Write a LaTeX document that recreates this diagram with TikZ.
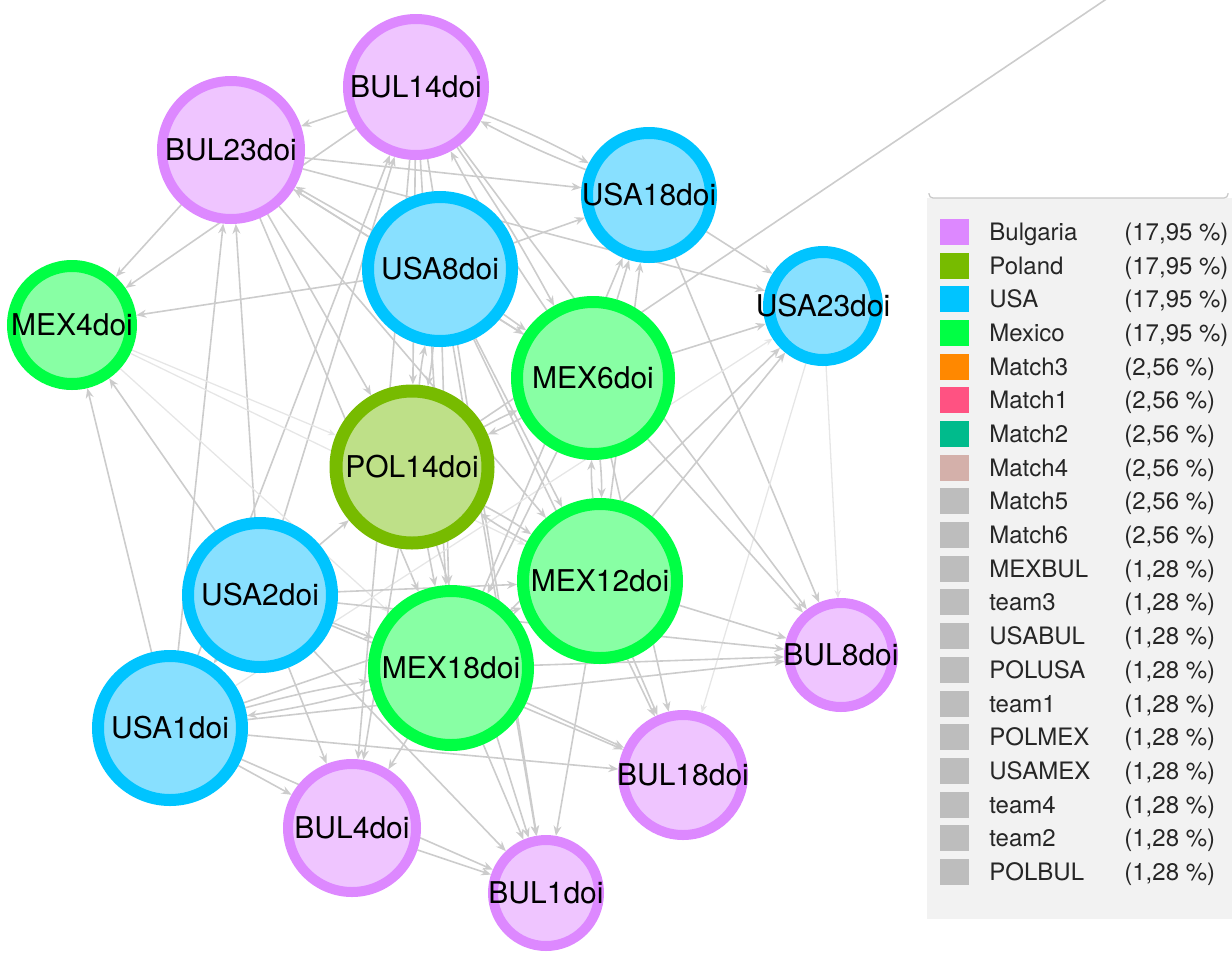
\documentclass[tikz,border=0pt]{standalone}
\usepackage{fontspec}
\setmainfont{TeX Gyre Heros}
\usetikzlibrary{arrows.meta,backgrounds}
\definecolor{bulF}{HTML}{EFC5FF}
\definecolor{bulD}{HTML}{DD88FF}
\definecolor{usaF}{HTML}{88E0FF}
\definecolor{usaD}{HTML}{00C4FF}
\definecolor{mexF}{HTML}{88FFA4}
\definecolor{mexD}{HTML}{00FF44}
\definecolor{polF}{HTML}{BEE088}
\definecolor{polD}{HTML}{77BB00}
\definecolor{m3C}{HTML}{FF8800}
\definecolor{m1C}{HTML}{FF5282}
\definecolor{m2C}{HTML}{00BB8C}
\definecolor{m4C}{HTML}{D4B0AA}
\definecolor{grC}{HTML}{BDBDBD}
\definecolor{edgeC}{HTML}{CCCCCC}
\definecolor{faintC}{HTML}{E6E6E6}
\definecolor{legBg}{HTML}{F2F2F2}
\definecolor{legLine}{HTML}{C8C8C8}
\begin{document}
\begin{tikzpicture}[x=0.5pt,y=-0.5pt,
  nodebase/.style={circle, inner sep=0pt, text=black, font=\fontsize{15}{17}\selectfont},
  bul/.style={nodebase, fill=bulF, draw=bulD, line width=5pt},
  usa/.style={nodebase, fill=usaF, draw=usaD, line width=6pt},
  mex/.style={nodebase, fill=mexF, draw=mexD, line width=6pt},
  pol/.style={nodebase, fill=polF, draw=polD, line width=6.5pt},
  conn/.style={draw=edgeC, line width=0.8pt, -{Stealth[length=5pt,width=4pt]}},
  fconn/.style={draw=faintC, line width=0.65pt, -{Stealth[length=4pt,width=3.2pt]}},
  legtext/.style={anchor=base west, inner sep=0pt, text=black!85, font=\fontsize{12}{14}\selectfont},
]
\useasboundingbox (0,0) rectangle (1232,954);

% nodes
\node[bul, minimum size=68pt] (b14) at (416,87)  {\makebox[0pt]{BUL14doi}};
\node[bul, minimum size=69pt] (b23) at (231,150) {\makebox[0pt]{BUL23doi}};
\node[usa, minimum size=62pt] (u18) at (649,195) {\makebox[0pt]{USA18doi}};
\node[usa, minimum size=72pt] (u8)  at (440,269) {\makebox[0pt]{USA8doi}};
\node[usa, minimum size=54pt] (u23) at (823,306) {\makebox[0pt]{USA23doi}};
\node[mex, minimum size=59pt] (m4)  at (72,325)  {\makebox[0pt]{MEX4doi}};
\node[mex, minimum size=76pt] (m6)  at (593,378) {\makebox[0pt]{MEX6doi}};
\node[pol, minimum size=76pt] (p14) at (412,467) {\makebox[0pt]{POL14doi}};
\node[mex, minimum size=77pt] (m12) at (600,581) {\makebox[0pt]{MEX12doi}};
\node[usa, minimum size=72pt] (u2)  at (260,595) {\makebox[0pt]{USA2doi}};
\node[mex, minimum size=77pt] (m18) at (451,668) {\makebox[0pt]{MEX18doi}};
\node[bul, minimum size=52pt] (b8)  at (841,655) {\makebox[0pt]{BUL8doi}};
\node[usa, minimum size=72pt] (u1)  at (170,728) {\makebox[0pt]{USA1doi}};
\node[bul, minimum size=60pt] (b18) at (683,775) {\makebox[0pt]{BUL18doi}};
\node[bul, minimum size=64pt] (b4)  at (352,828) {\makebox[0pt]{BUL4doi}};
\node[bul, minimum size=53pt] (b1)  at (546,893) {\makebox[0pt]{BUL1doi}};
\coordinate (far) at (1194,-60);

% edges
\begin{scope}[on background layer]
\clip (0,0) rectangle (1232,954);
\draw[conn, -] (p14) -- (far);
\draw[conn] (b14) to[bend left=3] (u18);
\draw[conn] (u18) to[bend left=3] (b14);
\draw[conn] (b23) -- (u18);
\draw[conn] (b23) -- (u23);
\draw[conn] (b14) -- (b23);
\draw[conn] (b23) -- (m4);
\draw[conn] (b14) -- (m4);
\draw[conn] (u8) -- (m4);
\draw[conn] (u8) -- (b23);
\draw[conn] (m6) -- (b23);
\draw[conn] (b23) -- (p14);
\draw[conn] (b23) -- (m12);
\draw[conn] (b23) -- (m18);
\draw[conn] (b23) -- (m6);
\draw[conn] (b14) to[bend left=3] (m6);
\draw[conn] (m6) to[bend left=3] (b14);
\draw[conn] (u2) -- (b23);
\draw[conn] (u1) -- (b23);
\draw[conn] (u2) -- (b14);
\draw[conn] (u1) -- (b14);
\draw[conn] (u1) -- (m4);
\draw[conn] (u2) -- (m4);
\draw[fconn] (m4) -- (p14);
\draw[fconn] (m4) -- (m18);
\draw[fconn] (m4) -- (m12);
\draw[conn] (b14) -- (p14);
\draw[conn] (b14) -- (m18);
\draw[conn] (b14) -- (b1);
\draw[conn] (b14) -- (b4);
\draw[conn] (u8) to[bend left=3] (p14);
\draw[conn] (p14) to[bend left=3] (u8);
\draw[conn] (u8) -- (m18);
\draw[conn] (u8) -- (m12);
\draw[conn] (u8) -- (m6);
\draw[conn] (u8) -- (b18);
\draw[conn] (u8) -- (b1);
\draw[conn] (u8) -- (u18);
\draw[conn] (m6) -- (u18);
\draw[conn] (m12) -- (u18);
\draw[conn] (m18) -- (u18);
\draw[conn] (u18) -- (u23);
\draw[conn] (u18) -- (b8);
\draw[conn] (m6) -- (u23);
\draw[conn] (m12) -- (u23);
\draw[conn] (m18) -- (u23);
\draw[fconn] (u1) -- (u23);
\draw[fconn] (u23) -- (b8);
\draw[fconn] (u23) -- (b18);
\draw[conn] (p14) to[bend left=3] (m6);
\draw[conn] (m6) to[bend left=3] (p14);
\draw[conn] (m12) to[bend left=3] (p14);
\draw[conn] (p14) to[bend left=3] (m12);
\draw[conn] (p14) -- (m18);
\draw[conn] (u2) -- (p14);
\draw[conn] (u2) -- (m12);
\draw[conn] (u2) -- (m18);
\draw[conn] (u2) -- (u1);
\draw[conn] (u2) -- (b4);
\draw[conn] (u2) -- (b1);
\draw[conn] (u2) -- (b18);
\draw[conn] (u2) -- (b8);
\draw[conn] (u1) to[bend left=3] (m18);
\draw[conn] (m18) to[bend left=3] (u1);
\draw[conn] (u1) -- (m12);
\draw[conn] (u1) -- (b18);
\draw[conn] (u1) -- (b8);
\draw[conn] (u1) -- (b4);
\draw[conn] (u1) -- (b1);
\draw[conn] (b4) -- (b1);
\draw[conn] (m18) -- (b1);
\draw[conn] (m12) -- (b1);
\draw[conn] (p14) -- (b1);
\draw[conn] (m18) -- (b4);
\draw[conn] (p14) -- (b4);
\draw[conn] (m12) -- (b18);
\draw[conn] (m6) -- (b18);
\draw[conn] (m18) -- (b18);
\draw[conn] (m12) -- (b8);
\draw[conn] (m6) -- (b8);
\draw[conn] (m18) -- (b8);
\draw[conn] (b14) -- (b8);
\draw[conn] (m6) to[bend left=3] (m12);
\draw[conn] (m12) to[bend left=3] (m6);
\draw[conn] (m6) -- (m18);
\end{scope}

% legend
\fill[legBg] (927,198) rectangle (1232,919);
\draw[legLine, line width=0.6pt, rounded corners=2pt] (929,193) -- (929,198) -- (1228,198) -- (1228,193);
\foreach \i/\nm/\col/\pc in {
  0/Bulgaria/bulD/{17,95}, 1/Poland/polD/{17,95}, 2/USA/usaD/{17,95}, 3/Mexico/mexD/{17,95},
  4/Match3/m3C/{2,56}, 5/Match1/m1C/{2,56}, 6/Match2/m2C/{2,56}, 7/Match4/m4C/{2,56},
  8/Match5/grC/{2,56}, 9/Match6/grC/{2,56}, 10/MEXBUL/grC/{1,28}, 11/team3/grC/{1,28},
  12/USABUL/grC/{1,28}, 13/POLUSA/grC/{1,28}, 14/team1/grC/{1,28}, 15/POLMEX/grC/{1,28},
  16/USAMEX/grC/{1,28}, 17/team4/grC/{1,28}, 18/team2/grC/{1,28}, 19/POLBUL/grC/{1,28}}{
  \pgfmathsetmacro{\yy}{232+\i*33.68}
  \fill[\col] (940,\yy-13) rectangle (969,\yy+13);
  \node[legtext] (lg\i) at (989,\yy+8.5) {\nm};
  \node[legtext] (lp\i) at (1124,\yy+8.5) {(\pc~\%)};
}
\end{tikzpicture}
\end{document}
